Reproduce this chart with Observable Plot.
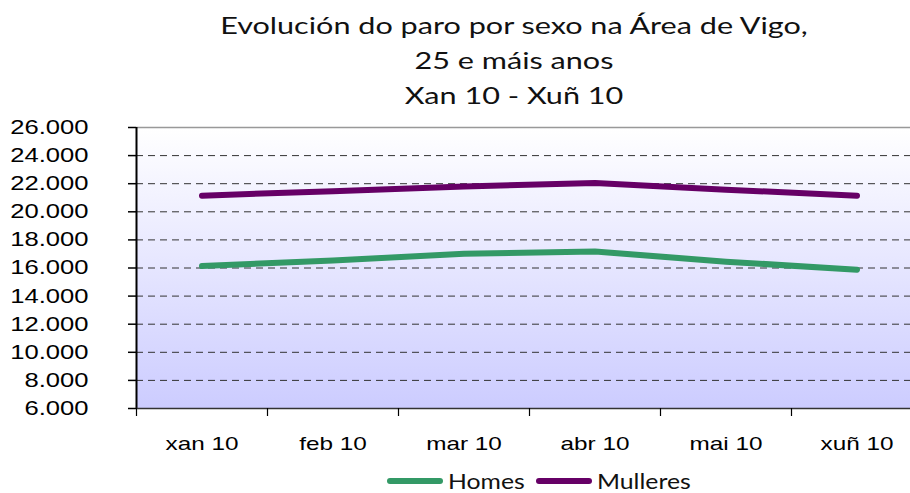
<!DOCTYPE html>
<html>
<head>
<meta charset="utf-8">
<script src="https://cdn.jsdelivr.net/npm/d3@7"></script>
<script src="https://cdn.jsdelivr.net/npm/@observablehq/plot@0.6"></script>
<style>
  body { margin: 0; background: #fff; width: 910px; height: 493px; overflow: hidden; }
  #title { height: 113px; box-sizing: border-box; padding-top: 8px; text-align: center; font-family: "Lato", sans-serif; font-size: 23px; line-height: 35px; color: #111; padding-left: 118px; }
  #title div { display: block; transform: scaleX(1.33); transform-origin: 50% 50%; }
  #chart { height: 350px; }
  #legend { height: 24px; line-height: 24px; display: flex; justify-content: center; align-items: center; font-family: "Lato", sans-serif; font-size: 21px; color: #111; padding-left: 174px; margin-top: 6px; }
  #legend .item { display: inline-flex; align-items: center; margin-right: 8px; }
  #legend .lbl { display: inline-block; transform: scaleX(1.18); transform-origin: 0 50%; margin-right: 14px; }
  #legend svg { margin-right: 4px; }
</style>
</head>
<body>
<div id="title"><div>Evolución do paro por sexo na Área de Vigo,</div><div>25 e máis anos</div><div>Xan 10 - Xuñ 10</div></div>
<div id="chart"></div>
<div id="legend"></div>
<script>
const months = ["xan 10", "feb 10", "mar 10", "abr 10", "mai 10", "xuñ 10"];
const homes = [16140, 16530, 17020, 17180, 16450, 15880];
const mulleres = [21150, 21470, 21800, 22050, 21570, 21150];
const seriesNames = ["Homes", "Mulleres"];
const seriesColors = ["#339966", "#660066"];
const yTicks = [6000, 8000, 10000, 12000, 14000, 16000, 18000, 20000, 22000, 24000, 26000];

const data = [];
months.forEach((m, i) => {
  data.push({i, month: m, serie: "Homes", value: homes[i]});
  data.push({i, month: m, serie: "Mulleres", value: mulleres[i]});
});

const fmt = d3.formatLocale({thousands: ".", grouping: [3], decimal: ","}).format(",");
const idx = months.map((_, i) => i);
const bounds = months.map((_, i) => i - 0.5).concat([months.length - 0.5]);

const chart = Plot.plot({
  width: 910,
  height: 350,
  marginTop: 14,
  marginBottom: 55,
  marginLeft: 136,
  marginRight: 0,
  x: {type: "linear", domain: [-0.5, 5.5], range: [136, 922], label: null},
  y: {domain: [6000, 26000], range: [295, 14], label: null},
  color: {domain: seriesNames, range: seriesColors},
  style: {fontFamily: "'Liberation Sans', Arial, sans-serif", overflow: "visible"},
  marks: [
    Plot.frame({fill: "url(#bgGrad)", stroke: "none"}),
    Plot.ruleY(yTicks.filter(d => d > 6000 && d < 26000), {stroke: "#333", strokeDasharray: "7,5", strokeWidth: 1}),
    Plot.ruleY([26000], {stroke: "#999", strokeWidth: 1.5}),
    Plot.line(data, {x: "i", y: "value", z: "serie", stroke: "serie", strokeWidth: 6, strokeLinecap: "round", strokeLinejoin: "round"}),
    Plot.axisY({ticks: yTicks, tickFormat: fmt, tickSize: 8, tickPadding: 40, fontSize: 20, fill: "#000", stroke: "#000", strokeWidth: 1.5, label: null}),
    Plot.ruleX([-0.5], {stroke: "#000", strokeWidth: 2}),
    Plot.ruleY([6000], {stroke: "#333", strokeWidth: 1.5}),
    Plot.axisX({ticks: bounds, tickFormat: () => "", tickSize: 8, stroke: "#000", strokeWidth: 1.2, label: null}),
    Plot.axisX({ticks: idx, tickFormat: i => months[i], tickSize: 0, tickPadding: 28, fontSize: 19, fill: "#000", label: null})
  ]
});

const defs = d3.create("svg:defs");
const grad = defs.append("linearGradient").attr("id", "bgGrad").attr("x1", 0).attr("y1", 0).attr("x2", 0).attr("y2", 1);
grad.append("stop").attr("offset", "0%").attr("stop-color", "#ffffff");
grad.append("stop").attr("offset", "100%").attr("stop-color", "#ccccff");
chart.insertBefore(defs.node(), chart.firstChild);

// stretch the tick labels horizontally like the reference, around each label's anchor point
const px = v => (v != null && !/em/.test(v)) ? (parseFloat(v) || 0) : null;
d3.select(chart).selectAll('g[aria-label="y-axis tick label"] text, g[aria-label="x-axis tick label"] text').each(function() {
  const t = this;
  const xa = t.getAttribute("x"), dxa = t.getAttribute("dx");
  let shift = 0;
  if (px(xa) !== null) { shift += px(xa); t.removeAttribute("x"); }
  if (px(dxa) !== null) { shift += px(dxa); t.removeAttribute("dx"); }
  const tr = t.getAttribute("transform") || "";
  t.setAttribute("transform", `${tr} translate(${shift},0) scale(1.28,1)`);
});

document.getElementById("chart").appendChild(chart);

const legend = document.getElementById("legend");
seriesNames.forEach((name, k) => {
  const span = document.createElement("span");
  span.className = "item";
  span.innerHTML = `<svg width="58" height="10"><line x1="4" y1="5" x2="54" y2="5" stroke="${seriesColors[k]}" stroke-width="6" stroke-linecap="round"/></svg><span class="lbl">${name}</span>`;
  legend.appendChild(span);
});
</script>
</body>
</html>
